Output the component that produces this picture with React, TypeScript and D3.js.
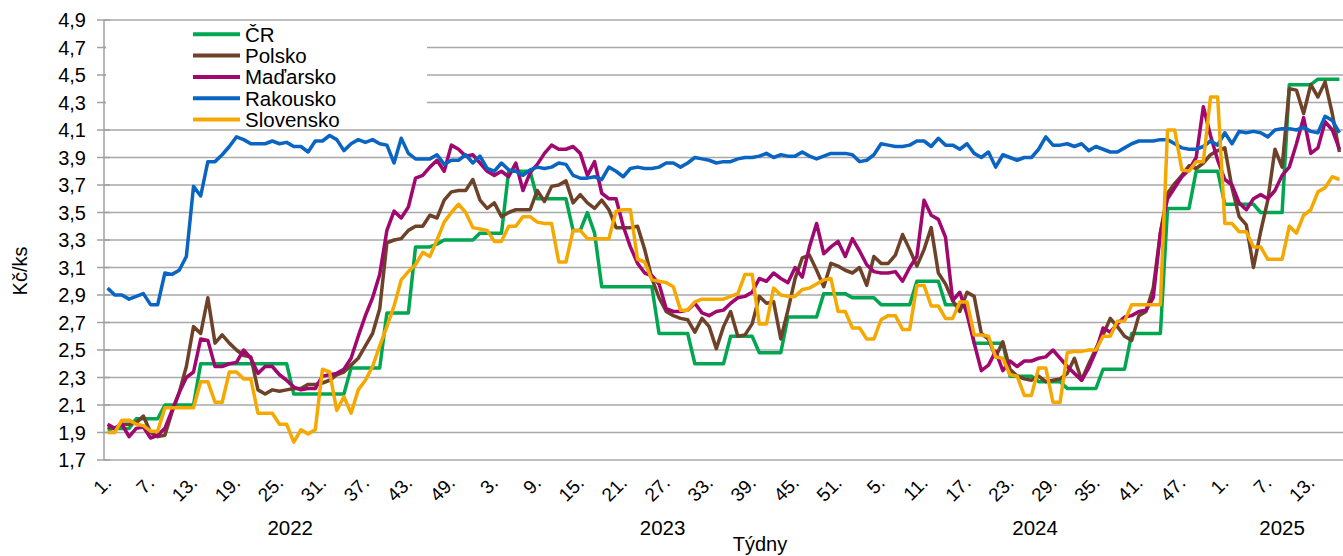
import * as d3 from 'd3';

// categories: weeks of each year
const years = ['2022', '2023', '2024', '2025'];
const weeksInYear = [52, 52, 52, 17];

const yTicks = [1.7, 1.9, 2.1, 2.3, 2.5, 2.7, 2.9, 3.1, 3.3, 3.5, 3.7, 3.9, 4.1, 4.3, 4.5, 4.7, 4.9];

// Kč/ks, weekly
const cr = [
  1.92, 1.93, 1.93, 1.93, 2.0, 2.0, 2.0, 2.0, 2.1, 2.1, 2.1, 2.1, 2.1,
  2.4, 2.4, 2.4, 2.4, 2.4, 2.4, 2.4, 2.4, 2.4, 2.4, 2.4, 2.4, 2.4,
  2.18, 2.18, 2.18, 2.18, 2.18, 2.18, 2.18, 2.18, 2.37, 2.37, 2.37, 2.37, 2.37,
  2.77, 2.77, 2.77, 2.77, 3.25, 3.25, 3.25, 3.27, 3.3, 3.3, 3.3, 3.3, 3.3,
  // 2023
  3.35, 3.35, 3.35, 3.35, 3.8, 3.8, 3.8, 3.8, 3.6, 3.6, 3.6, 3.6, 3.6,
  3.37, 3.37, 3.5, 3.35, 2.96, 2.96, 2.96, 2.96, 2.96, 2.96, 2.96, 2.96,
  2.62, 2.62, 2.62, 2.62, 2.62, 2.4, 2.4, 2.4, 2.4, 2.4, 2.6, 2.6, 2.6, 2.6,
  2.48, 2.48, 2.48, 2.48, 2.74, 2.74, 2.74, 2.74, 2.74, 2.91, 2.91, 2.91, 2.91,
  // 2024
  2.88, 2.88, 2.88, 2.88, 2.83, 2.83, 2.83, 2.83, 2.83, 3.0, 3.0, 3.0, 3.0,
  2.83, 2.83, 2.83, 2.83, 2.55, 2.55, 2.55, 2.55, 2.55, 2.31, 2.31, 2.31, 2.31,
  2.27, 2.27, 2.27, 2.27, 2.22, 2.22, 2.22, 2.22, 2.22, 2.36, 2.36, 2.36, 2.36,
  2.62, 2.62, 2.62, 2.62, 2.62, 3.53, 3.53, 3.53, 3.53, 3.8, 3.8, 3.8, 3.8,
  // 2025
  3.56, 3.56, 3.56, 3.56, 3.56, 3.5, 3.5, 3.5, 3.5, 4.43, 4.43, 4.43, 4.43,
  4.47, 4.47, 4.47, 4.47,
];

const polsko = [
  1.94, 1.93, 1.96, 1.96, 1.97, 2.02, 1.9, 1.87, 1.88, 2.05,
  2.19, 2.38, 2.67, 2.62, 2.88, 2.55, 2.61, 2.55, 2.5, 2.46,
  2.45, 2.21, 2.18, 2.21, 2.2, 2.21, 2.22, 2.22, 2.25, 2.25,
  2.26, 2.28, 2.32, 2.34, 2.39, 2.44, 2.53, 2.62, 2.8, 3.28,
  3.3, 3.31, 3.37, 3.4, 3.4, 3.48, 3.46, 3.59, 3.65, 3.66,
  3.66, 3.74,
  // 2023
  3.59, 3.53, 3.57, 3.47, 3.5, 3.52, 3.52, 3.52, 3.66, 3.58,
  3.69, 3.7, 3.73, 3.57, 3.63, 3.57, 3.53, 3.59, 3.52, 3.39,
  3.39, 3.39, 3.4, 3.23, 3.02, 2.88, 2.78, 2.75, 2.73, 2.72,
  2.63, 2.73, 2.67, 2.51, 2.67, 2.78, 2.6, 2.61, 2.69, 2.89,
  2.84, 2.85, 2.58, 2.79, 3.02, 3.17, 3.19, 3.08, 2.96, 3.13,
  3.11, 3.08,
  // 2024
  3.06, 3.1, 2.97, 3.18, 3.13, 3.13, 3.19, 3.34, 3.23, 3.11,
  3.23, 3.39, 3.06, 2.98, 2.86, 2.78, 2.92, 2.89, 2.62, 2.58,
  2.45, 2.56, 2.36, 2.31, 2.29, 2.28, 2.31, 2.27, 2.28, 2.29,
  2.33, 2.44, 2.28, 2.4, 2.51, 2.61, 2.73, 2.67, 2.6, 2.57,
  2.75, 2.78, 2.95, 3.35, 3.64, 3.71, 3.77, 3.84, 3.82, 3.86,
  3.92, 3.95,
  // 2025
  3.97, 3.68, 3.47, 3.41, 3.1, 3.36, 3.59, 3.96, 3.83, 4.4,
  4.39, 4.22, 4.43, 4.34, 4.45, 4.22, 3.94,
];

const madarsko = [
  1.96, 1.93, 1.96, 1.87, 1.93, 1.94, 1.86, 1.88, 1.93, 2.06,
  2.19, 2.3, 2.34, 2.58, 2.57, 2.38, 2.38, 2.4, 2.41, 2.5,
  2.44, 2.33, 2.38, 2.38, 2.32, 2.28, 2.23, 2.21, 2.22, 2.22,
  2.31, 2.32, 2.33, 2.36, 2.44, 2.6, 2.75, 2.88, 3.05, 3.37,
  3.51, 3.46, 3.54, 3.75, 3.77, 3.83, 3.88, 3.8, 3.99, 3.96,
  3.91, 3.92,
  // 2023
  3.86, 3.8, 3.77, 3.8, 3.76, 3.86, 3.66, 3.79, 3.85, 3.93,
  3.99, 3.96, 3.96, 3.98, 3.93, 3.77, 3.87, 3.64, 3.6, 3.6,
  3.4, 3.25, 3.13, 3.06, 3.04, 2.98, 2.8, 2.78, 2.78, 2.79,
  2.84, 2.77, 2.75, 2.78, 2.79, 2.84, 2.88, 2.89, 2.92, 3.02,
  3.0, 3.06, 3.02, 2.99, 3.1, 3.03, 3.25, 3.42, 3.2, 3.25,
  3.29, 3.18,
  // 2024
  3.31, 3.22, 3.12, 3.07, 3.06, 3.06, 3.07, 3.0, 3.1, 3.18,
  3.59, 3.48, 3.45, 3.32, 2.86, 2.92, 2.76, 2.55, 2.35, 2.39,
  2.49, 2.35, 2.42, 2.38, 2.42, 2.42, 2.44, 2.45, 2.5, 2.44,
  2.38, 2.33, 2.28, 2.37, 2.49, 2.66, 2.63, 2.69, 2.74, 2.75,
  2.78, 2.79, 2.88, 3.35, 3.6, 3.68, 3.76, 3.81, 3.9, 4.27,
  4.06, 3.88,
  // 2025
  3.74, 3.7, 3.57, 3.52, 3.6, 3.63, 3.6, 3.66, 3.77, 3.83,
  4.0, 4.19, 3.93, 3.97, 4.16, 4.1, 3.96,
];

const rakousko = [
  2.95, 2.9, 2.9, 2.87, 2.89, 2.91, 2.83, 2.83, 3.06, 3.05,
  3.08, 3.18, 3.69, 3.62, 3.87, 3.87, 3.92, 3.98, 4.05, 4.03,
  4.0, 4.0, 4.0, 4.02, 4.0, 4.01, 3.98, 3.98, 3.94, 4.02,
  4.02, 4.06, 4.03, 3.95, 4.0, 4.03, 4.01, 4.03, 4.0, 3.99,
  3.86, 4.04, 3.93, 3.89, 3.89, 3.89, 3.92, 3.85, 3.88, 3.88,
  3.92, 3.86,
  // 2023
  3.91, 3.82, 3.8, 3.86, 3.81, 3.8, 3.77, 3.81, 3.83, 3.82,
  3.83, 3.86, 3.85, 3.77, 3.75, 3.75, 3.76, 3.74, 3.83, 3.8,
  3.76, 3.82, 3.83, 3.82, 3.82, 3.83, 3.86, 3.86, 3.83, 3.86,
  3.9, 3.89, 3.88, 3.86, 3.87, 3.87, 3.89, 3.9, 3.9, 3.91,
  3.93, 3.9, 3.92, 3.91, 3.91, 3.94, 3.91, 3.89, 3.91, 3.93,
  3.93, 3.93,
  // 2024
  3.92, 3.87, 3.88, 3.92, 4.0, 3.99, 3.98, 3.98, 3.99, 4.02,
  4.02, 3.98, 4.04, 3.99, 3.99, 3.96, 4.0, 3.93, 3.9, 3.94,
  3.83, 3.92, 3.9, 3.88, 3.9, 3.9, 3.96, 4.05, 3.99, 3.99,
  4.0, 3.98, 4.0, 3.95, 3.98, 3.96, 3.94, 3.94, 3.97, 4.0,
  4.02, 4.02, 4.02, 4.03, 4.03, 4.0, 3.97, 3.96, 3.96, 3.98,
  4.02, 3.99,
  // 2025
  4.08, 4.0, 4.09, 4.08, 4.09, 4.08, 4.05, 4.1, 4.11, 4.11,
  4.1, 4.12, 4.09, 4.08, 4.2, 4.17, 4.08,
];

const slovensko = [
  1.9, 1.9, 1.99, 1.99, 1.96, 1.95, 1.91, 1.91, 2.08, 2.08,
  2.08, 2.08, 2.08, 2.27, 2.27, 2.12, 2.12, 2.34, 2.34, 2.29,
  2.29, 2.04, 2.04, 2.04, 1.96, 1.96, 1.83, 1.92, 1.89, 1.92,
  2.36, 2.34, 2.06, 2.16, 2.04, 2.21, 2.28, 2.38, 2.53, 2.67,
  2.82, 3.01, 3.07, 3.12, 3.21, 3.18, 3.3, 3.43, 3.5, 3.56,
  3.5, 3.39,
  // 2023
  3.38, 3.37, 3.29, 3.29, 3.4, 3.4, 3.47, 3.47, 3.43, 3.42,
  3.42, 3.14, 3.14, 3.37, 3.37, 3.31, 3.31, 3.31, 3.31, 3.51,
  3.52, 3.52, 3.16, 3.14, 3.01, 3.0, 2.99, 2.96, 2.79, 2.79,
  2.85, 2.87, 2.87, 2.87, 2.87, 2.89, 2.91, 3.05, 3.05, 2.69,
  2.69, 2.95, 2.9, 2.89, 2.89, 2.94, 2.95, 2.98, 3.01, 3.02,
  2.78, 2.78,
  // 2024
  2.66, 2.66, 2.58, 2.58, 2.72, 2.75, 2.75, 2.65, 2.65, 2.97,
  2.97, 2.82, 2.82, 2.73, 2.73, 2.85, 2.85, 2.61, 2.61, 2.6,
  2.45, 2.44, 2.32, 2.31, 2.17, 2.17, 2.37, 2.37, 2.12, 2.12,
  2.48, 2.49, 2.49, 2.5, 2.5, 2.6, 2.6, 2.71, 2.71, 2.83,
  2.83, 2.83, 2.83, 2.83, 4.1, 4.1, 3.81, 3.8, 3.87, 3.87,
  4.34, 4.34,
  // 2025
  3.42, 3.42, 3.36, 3.36, 3.25, 3.25, 3.16, 3.16, 3.16, 3.4,
  3.35, 3.48, 3.52, 3.65, 3.68, 3.76, 3.74,
];

const seriesNames = ['ČR', 'Polsko', 'Maďarsko', 'Rakousko', 'Slovensko'];
const seriesColors = ['#00a650', '#6e4129', '#a0076f', '#0a64c1', '#f5a900'];
const seriesValues = [cr, polsko, madarsko, rakousko, slovensko];

const W = 1343;
const H = 556;
const FONT = '"Liberation Sans", Arial, sans-serif';

export default function App() {
  // week labels built from the year list
  const weeks: { year: string; week: number }[] = [];
  years.forEach((yr, k) => {
    for (let w = 1; w <= weeksInYear[k]; w++) weeks.push({ year: yr, week: w });
  });
  const n = weeks.length;

  const x = d3.scaleBand<number>().domain(d3.range(n)).range([104, W]);
  const cx = (i: number) => (x(i) as number) + x.bandwidth() / 2;
  const y = d3.scaleLinear().domain([1.7, 4.9]).range([460, 20]);

  const line = d3
    .line<number>()
    .x((_, i) => cx(i))
    .y((d) => y(d));

  const fmt = (v: number) => d3.format('.1f')(v).replace('.', ',');

  // year spans
  let start = 0;
  const yearSpans = years.map((yr, k) => {
    const s = start;
    start += weeksInYear[k];
    return { yr, mid: (x(s) as number) + (weeksInYear[k] * x.step()) / 2 };
  });

  const legendY = (k: number) => 34.3 + k * 21.3;

  return (
    <div style={{ position: 'absolute', left: 0, top: 0 }}>
      <svg width={W} height={H} style={{ display: 'block', background: '#fff' }} fontFamily={FONT}>
        {/* gridlines */}
        {yTicks.map((t) => (
          <line key={t} x1={104} x2={W} y1={y(t)} y2={y(t)} stroke="#a9a9a9" strokeWidth={1.5} />
        ))}
        {/* y axis */}
        <line x1={104} x2={104} y1={y(4.9)} y2={y(1.7)} stroke="#a0a0a0" strokeWidth={1.5} />
        {yTicks.map((t) => (
          <g key={'t' + t}>
            <line x1={97} x2={110} y1={y(t)} y2={y(t)} stroke="#a0a0a0" strokeWidth={1.5} />
            <text x={86} y={y(t)} dy="0.35em" textAnchor="end" fontSize={20} fill="#000">
              {fmt(t)}
            </text>
          </g>
        ))}

        {/* legend box */}
        <rect x={106} y={23} width={321} height={104} fill="#fff" />

        {/* series */}
        {seriesValues.map((vals, k) => (
          <path
            key={seriesNames[k]}
            d={line(vals) ?? ''}
            fill="none"
            stroke={seriesColors[k]}
            strokeWidth={3.5}
            strokeLinejoin="round"
          />
        ))}

        {/* legend */}
        {seriesNames.map((name, k) => (
          <g key={'l' + name}>
            <line x1={193} x2={240} y1={legendY(k)} y2={legendY(k)} stroke={seriesColors[k]} strokeWidth={4} />
            <text x={245} y={legendY(k) + 7.5} fontSize={20.5} fill="#000">
              {name}
            </text>
          </g>
        ))}

        {/* x tick labels */}
        {weeks.map((w, i) =>
          i % 6 === 0 ? (
            <text
              key={'x' + i}
              transform={`translate(${cx(i) + 5},${484}) rotate(-45)`}
              textAnchor="end"
              fontSize={19}
              fill="#000"
            >
              {w.week + '.'}
            </text>
          ) : null
        )}

        {/* years */}
        {yearSpans.map((s) => (
          <text key={s.yr} x={s.mid} y={535} textAnchor="middle" fontSize={20.5} fill="#000">
            {s.yr}
          </text>
        ))}

        {/* axis titles */}
        <text x={760} y={551} textAnchor="middle" fontSize={20} fill="#000">
          Týdny
        </text>
        <text transform="translate(27,271) rotate(-90)" textAnchor="middle" fontSize={20} fill="#000">
          Kč/ks
        </text>
      </svg>
    </div>
  );
}
